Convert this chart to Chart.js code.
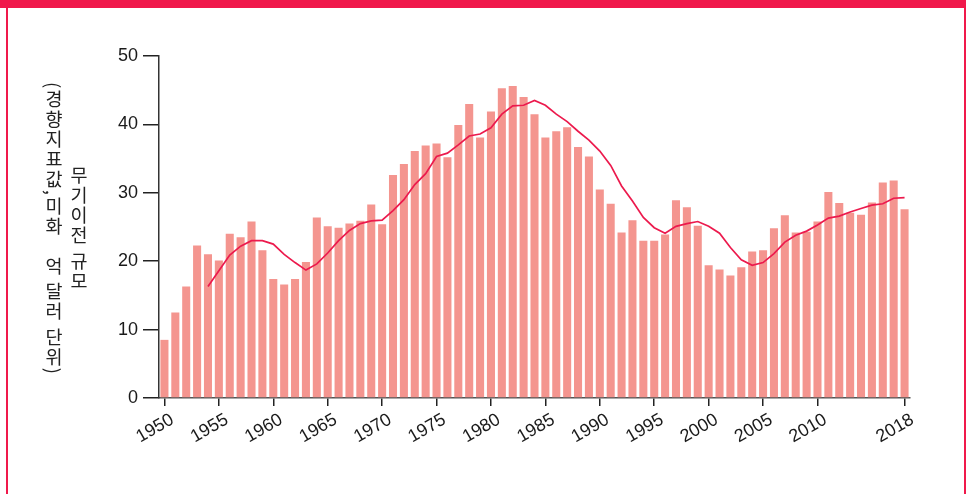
<!DOCTYPE html>
<html>
<head>
<meta charset="utf-8">
<script src="https://cdn.jsdelivr.net/npm/chart.js@4/dist/chart.umd.min.js"></script>
<style>
  html, body { margin: 0; padding: 0; background: #fff; }
  #wrap { position: relative; width: 969px; height: 494px; overflow: hidden; }
  #arms-chart-canvas { position: absolute; left: 0; top: 0; }
  .frame-top { position: absolute; left: 0; top: 0; width: 966px; height: 8px; background: #f0194b; }
  .frame-side { position: absolute; top: 0; width: 2px; height: 494px; background: #f0194b; }
  #y-title {
    position: absolute; left: 41px; top: 58px; width: 50px; height: 342px;
    writing-mode: vertical-rl; text-orientation: mixed;
    text-align: center; line-height: 25px;
    font-family: "Noto Sans CJK KR", sans-serif; font-size: 18.5px; letter-spacing: 1.5px;
    color: #222;
  }
</style>
</head>
<body>
<div id="wrap">
  <canvas id="arms-chart-canvas" width="969" height="494"></canvas>
  <div class="frame-top"></div>
  <div class="frame-side" style="left:6px"></div>
  <div class="frame-side" style="left:964px"></div>
  <div id="y-title">무기이전 규모<br>(경향지표값,미화　억 달러 단위)</div>
</div>
<script>
const years = [
  "1950", "1951", "1952", "1953", "1954", "1955", "1956", "1957", "1958", "1959",
  "1960", "1961", "1962", "1963", "1964", "1965", "1966", "1967", "1968", "1969",
  "1970", "1971", "1972", "1973", "1974", "1975", "1976", "1977", "1978", "1979",
  "1980", "1981", "1982", "1983", "1984", "1985", "1986", "1987", "1988", "1989",
  "1990", "1991", "1992", "1993", "1994", "1995", "1996", "1997", "1998", "1999",
  "2000", "2001", "2002", "2003", "2004", "2005", "2006", "2007", "2008", "2009",
  "2010", "2011", "2012", "2013", "2014", "2015", "2016", "2017", "2018"
];

// yearly transfer volume
const transfers = [
  8.5, 12.5, 16.3, 22.3, 21.0, 20.1, 24.0, 23.5, 25.8, 21.6,
  17.4, 16.6, 17.4, 19.9, 26.4, 25.1, 24.9, 25.5, 25.9, 28.3,
  25.4, 32.6, 34.2, 36.1, 36.9, 37.2, 35.2, 39.9, 43.0, 38.1,
  41.9, 45.3, 45.6, 44.0, 41.5, 38.1, 39.0, 39.6, 36.7, 35.3,
  30.5, 28.4, 24.2, 26.0, 23.0, 23.0, 23.9, 28.9, 27.9, 25.2,
  19.4, 18.8, 17.9, 19.1, 21.4, 21.6, 24.8, 26.7, 24.2, 24.3,
  25.8, 30.1, 28.5, 27.1, 26.8, 28.6, 31.5, 31.8, 27.6
];

// trend line
const trend = [
  null, null, null, null, 16.3, 18.6, 20.9, 22.2, 23.0, 23.0,
  22.5, 21.0, 19.8, 18.7, 19.6, 21.2, 23.0, 24.5, 25.5, 25.9,
  26.0, 27.4, 29.0, 31.2, 32.8, 35.3, 35.8, 37.0, 38.3, 38.6,
  39.5, 41.5, 42.7, 42.8, 43.5, 42.8, 41.5, 40.4, 39.0, 37.7,
  36.1, 34.0, 31.0, 28.8, 26.4, 24.9, 24.1, 25.1, 25.5, 25.8,
  25.1, 24.1, 22.0, 20.2, 19.4, 19.8, 21.1, 22.8, 23.8, 24.4,
  25.3, 26.3, 26.6, 27.2, 27.7, 28.2, 28.4, 29.2, 29.3
];

const tick_years = ["1950", "1955", "1960", "1965", "1970", "1975", "1980",
  "1985", "1990", "1995", "2000", "2005", "2010", "2018"];
const y_ticks = [0, 10, 20, 30, 40, 50];

const tick_font = { family: "'Liberation Sans', Arial, sans-serif", size: 18 };

function draw_chart() {
  let canvas = document.querySelector("#arms-chart-canvas");
  new Chart(canvas, {
    data: {
      labels: years,
      datasets: [{
        type: "line",
        data: trend,
        borderColor: "#ec1a4d",
        borderWidth: 1.7,
        pointRadius: 0,
        tension: 0,
        order: 0,
      }, {
        type: "bar",
        data: transfers,
        backgroundColor: "#f4958f",
        categoryPercentage: 1.0,
        barPercentage: 0.74,
        order: 1,
      }]
    },
    options: {
      responsive: false,
      animation: false,
      devicePixelRatio: 1,
      layout: { padding: { left: 0, top: 56, right: 59, bottom: 36 } },
      plugins: { legend: { display: false }, tooltip: { enabled: false } },
      scales: {
        x: {
          type: "category",
          offset: true,
          afterFit: function(scale) { scale.height = 60; },
          border: { display: true, color: "#555", width: 1.5 },
          grid: {
            offset: false,
            drawOnChartArea: false,
            drawTicks: true,
            tickLength: 8,
            lineWidth: 1.5,
            color: function(ctx) {
              return tick_years.includes(years[ctx.index]) ? "#222" : "rgba(0,0,0,0)";
            },
          },
          ticks: {
            autoSkip: false,
            minRotation: 30,
            maxRotation: 30,
            padding: 3,
            labelOffset: 8,
            color: "#1a1a1a",
            font: tick_font,
            callback: function(value, index) {
              const label = years[index];
              return tick_years.includes(label) ? label : "";
            },
          },
        },
        y: {
          min: 0,
          max: 50,
          afterFit: function(scale) { scale.width = 159; },
          afterBuildTicks: function(scale) {
            scale.ticks = y_ticks.map(function(v) { return { value: v }; });
          },
          border: { display: true, color: "#333", width: 1.5 },
          grid: {
            drawOnChartArea: false,
            drawTicks: true,
            tickLength: 16,
            lineWidth: 1.5,
            color: "#222",
          },
          ticks: {
            padding: 5,
            color: "#1a1a1a",
            font: tick_font,
          },
        },
      },
    },
  });
}

draw_chart();
</script>
</body>
</html>
